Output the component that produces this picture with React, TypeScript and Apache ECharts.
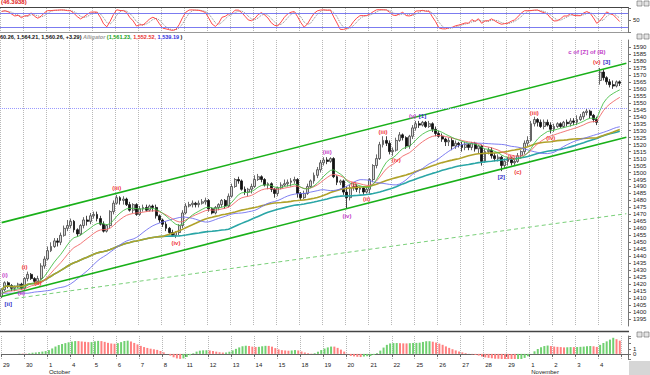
import React, { useEffect, useRef } from "react";
import * as echarts from "echarts";

// ---------- data ----------
const dayLabels = ["29", "30", "1", "4", "5", "6", "7", "8", "11", "12", "13", "14", "15", "18", "19", "20", "21", "22", "25", "26", "27", "28", "29", "1", "2", "3", "4"];
const monthNames = ["October", "November"];
const monthStartDays = [2, 23];
const BARS_PER_DAY = 7;
const EXTRA_SLOTS = 2;

// hourly bars: [open, close, low, high]
const ohlc: number[][] = [
  [1411, 1416, 1410, 1417], [1416, 1421, 1415, 1422], [1421, 1419, 1417, 1422], [1419, 1417, 1415, 1420], [1417, 1418, 1415, 1419], [1418, 1420, 1417, 1421], [1420, 1417, 1416, 1421],
  [1417, 1424, 1416, 1425], [1424, 1427, 1422, 1429], [1427, 1424, 1423, 1428], [1424, 1422, 1421, 1425], [1422, 1424, 1421, 1426], [1424, 1433, 1423, 1435], [1433, 1438, 1431, 1440],
  [1438, 1444, 1437, 1447], [1444, 1447, 1443, 1450], [1447, 1451, 1446, 1453], [1451, 1450, 1447, 1453], [1450, 1455, 1448, 1457], [1455, 1460, 1454, 1462], [1460, 1462, 1458, 1466],
  [1462, 1465, 1460, 1467], [1465, 1459, 1457, 1466], [1459, 1456, 1454, 1460], [1456, 1462, 1455, 1463], [1462, 1466, 1460, 1468], [1466, 1465, 1462, 1469], [1465, 1469, 1463, 1471],
  [1469, 1470, 1467, 1472], [1470, 1467, 1465, 1472], [1467, 1463, 1462, 1469], [1463, 1458, 1457, 1465], [1458, 1462, 1457, 1463], [1462, 1472, 1460, 1473], [1472, 1478, 1470, 1480],
  [1478, 1482, 1477, 1484], [1482, 1480, 1477, 1483], [1480, 1481, 1477, 1483], [1481, 1477, 1476, 1482], [1477, 1473, 1472, 1479], [1473, 1477, 1471, 1478], [1477, 1470, 1469, 1478],
  [1470, 1474, 1469, 1476], [1474, 1475, 1472, 1477], [1475, 1473, 1472, 1477], [1473, 1476, 1472, 1477], [1476, 1475, 1472, 1477], [1475, 1469, 1467, 1477], [1469, 1466, 1464, 1470],
  [1466, 1463, 1461, 1467], [1463, 1460, 1458, 1465], [1460, 1457, 1456, 1461], [1457, 1455, 1454, 1459], [1455, 1457, 1453, 1458], [1457, 1462, 1455, 1463], [1462, 1471, 1460, 1473],
  [1471, 1476, 1470, 1478], [1476, 1477, 1475, 1479], [1477, 1478, 1475, 1480], [1478, 1477, 1475, 1479], [1477, 1478, 1475, 1480], [1478, 1479, 1477, 1481], [1479, 1480, 1477, 1482],
  [1480, 1474, 1472, 1481], [1474, 1471, 1470, 1475], [1471, 1475, 1470, 1476], [1475, 1477, 1473, 1478], [1477, 1480, 1475, 1481], [1480, 1476, 1474, 1481], [1476, 1483, 1475, 1485],
  [1483, 1490, 1482, 1492], [1490, 1495, 1489, 1496], [1495, 1494, 1492, 1497], [1494, 1488, 1487, 1495], [1488, 1486, 1484, 1490], [1486, 1488, 1483, 1489], [1488, 1490, 1485, 1492],
  [1490, 1495, 1489, 1498], [1495, 1497, 1494, 1499], [1497, 1495, 1493, 1498], [1495, 1491, 1490, 1496], [1491, 1492, 1488, 1493], [1492, 1488, 1486, 1493], [1488, 1485, 1482, 1489],
  [1485, 1489, 1483, 1490], [1489, 1491, 1488, 1493], [1491, 1492, 1490, 1495], [1492, 1493, 1490, 1495], [1493, 1494, 1490, 1496], [1494, 1495, 1492, 1497], [1495, 1485, 1482, 1496],
  [1485, 1482, 1480, 1486], [1482, 1485, 1481, 1487], [1485, 1490, 1484, 1492], [1490, 1494, 1489, 1495], [1494, 1498, 1492, 1500], [1498, 1502, 1496, 1504], [1502, 1507, 1500, 1509],
  [1507, 1509, 1505, 1511], [1509, 1508, 1506, 1511], [1508, 1510, 1507, 1511], [1510, 1497, 1496, 1511], [1497, 1493, 1491, 1498], [1493, 1494, 1491, 1495], [1494, 1486, 1484, 1495],
  [1486, 1482, 1474, 1490], [1482, 1489, 1480, 1491], [1489, 1490, 1487, 1492], [1490, 1488, 1486, 1492], [1488, 1489, 1485, 1490], [1489, 1486, 1484, 1490], [1486, 1488, 1485, 1490],
  [1488, 1495, 1485, 1496], [1495, 1505, 1493, 1506], [1505, 1510, 1503, 1513], [1510, 1520, 1509, 1522], [1520, 1523, 1518, 1526], [1523, 1521, 1519, 1526], [1521, 1515, 1513, 1523],
  [1515, 1516, 1512, 1518], [1516, 1523, 1515, 1525], [1523, 1527, 1522, 1529], [1527, 1525, 1523, 1528], [1525, 1519, 1517, 1526], [1519, 1526, 1517, 1527], [1526, 1532, 1524, 1534],
  [1532, 1535, 1530, 1537], [1535, 1534, 1532, 1537], [1534, 1536, 1533, 1537], [1536, 1533, 1532, 1537], [1533, 1535, 1532, 1537], [1535, 1531, 1529, 1536], [1531, 1528, 1526, 1533],
  [1528, 1526, 1525, 1530], [1526, 1524, 1522, 1528], [1524, 1522, 1519, 1525], [1522, 1523, 1519, 1525], [1523, 1519, 1516, 1525], [1519, 1521, 1517, 1523], [1521, 1520, 1518, 1522],
  [1520, 1518, 1515, 1522], [1518, 1520, 1516, 1522], [1520, 1518, 1516, 1521], [1518, 1521, 1516, 1522], [1521, 1517, 1515, 1522], [1517, 1519, 1514, 1520], [1519, 1508, 1505, 1520],
  [1508, 1515, 1507, 1517], [1515, 1516, 1513, 1518], [1516, 1512, 1510, 1518], [1512, 1510, 1508, 1514], [1510, 1511, 1508, 1513], [1511, 1505, 1501, 1512], [1505, 1508, 1503, 1510],
  [1508, 1509, 1505, 1511], [1509, 1507, 1505, 1511], [1507, 1508, 1505, 1510], [1508, 1512, 1507, 1514], [1512, 1515, 1510, 1516], [1515, 1521, 1513, 1523], [1521, 1523, 1519, 1526],
  [1523, 1535, 1522, 1537], [1535, 1538, 1533, 1540], [1538, 1536, 1533, 1539], [1536, 1533, 1532, 1538], [1533, 1536, 1531, 1538], [1536, 1534, 1533, 1538], [1534, 1531, 1528, 1536],
  [1531, 1533, 1529, 1535], [1533, 1535, 1532, 1536], [1535, 1533, 1532, 1536], [1533, 1536, 1532, 1537], [1536, 1535, 1533, 1538], [1535, 1537, 1533, 1539], [1537, 1536, 1534, 1539],
  [1536, 1538, 1534, 1541], [1538, 1540, 1537, 1542], [1540, 1543, 1538, 1544], [1543, 1544, 1541, 1546], [1544, 1541, 1539, 1545], [1541, 1538, 1536, 1542], [1538, 1536, 1534, 1540],
  [1566, 1572, 1563, 1575], [1572, 1568, 1566, 1574], [1568, 1565, 1563, 1569], [1565, 1563, 1561, 1567], [1563, 1562, 1560, 1566], [1562, 1565, 1561, 1566], [1565, 1564, 1562, 1566],
];

// Elliott wave labels: [text, bar index, price, kind]
const waveLabels: [string, number, number, string][] = [
  ["[ii]", 2, 1406, "blue"], ["(i)", 1, 1426.6, "purple"], ["(ii)", 6, 1413.7, "purple"],
  ["(i)", 7, 1432.3, "red"], ["(ii)", 11, 1420.8, "red"], ["(iii)", 35, 1488.9, "red"], ["(iv)", 53, 1449.5, "red"],
  ["(iii)", 99, 1514.7, "purple"], ["(iv)", 105, 1468.9, "purple"], ["(i)", 107, 1491.8, "red"], ["(ii)", 111, 1481, "red"],
  ["(iii)", 116, 1529.1, "red"], ["(iv)", 120, 1509, "red"], ["(v)", 125, 1540.6, "purple"], ["[1]", 128, 1540.6, "blue"],
  ["[2]", 152, 1496.8, "blue"], ["(b)", 155, 1511.2, "red"], ["(c)", 157, 1500.4, "red"],
  ["(iii)", 162, 1542.7, "red"], ["(iv)", 167, 1524.8, "red"],
  ["c of [Z] of (B)", 178, 1586.4, "purple"], ["(v)", 181, 1579.2, "red"], ["[3]", 184, 1579.2, "blue"],
];

const resistanceLevel = 1546;
const channelUpper = [[0, 1464.1], [190, 1578.3]];
const channelLower = [[0, 1411.1], [190, 1525.3]];
const channelDashed = [[4, 1409.7], [190, 1470.5]];
const oscLevels = [20, 80];

const headerPrice = "60.26, 1,564.21, 1,560.26, +3.29)";
const headerAlligator = ["(1,561.23,", "1,552.52,", "1,539.19"];
const oscReadout = "(46.3938)";

// ---------- indicators (computed from the bars) ----------
const sma = (src: number[], n: number) =>
  src.map((_, i) => {
    const s = Math.max(0, i - n + 1);
    let t = 0;
    for (let j = s; j <= i; j++) t += src[j];
    return t / (i - s + 1);
  });
const smma = (src: number[], n: number) => {
  const out: number[] = [];
  let prev = src[0];
  src.forEach((v, i) => {
    prev = i === 0 ? v : (prev * (n - 1) + v) / n;
    out.push(prev);
  });
  return out;
};
const shift = (a: number[], k: number) => a.map((_, i) => a[Math.max(0, i - k)]);
const r2 = (a: number[]) => a.map((v) => Math.round(v * 100) / 100);

const COLORS = { red: "#f03838", purple: "#c23cc8", blue: "#3030c8" } as Record<string, string>;

function buildOption() {
  const total = dayLabels.length * BARS_PER_DAY + EXTRA_SLOTS;
  const cats = Array.from({ length: total }, (_, i) => String(i));
  const closes = ohlc.map((r) => r[1]);
  const lows = ohlc.map((r) => r[2]);
  const highs = ohlc.map((r) => r[3]);
  const med = ohlc.map((r) => (r[2] + r[3]) / 2);

  const lips = smma(med, 5);
  const teeth = smma(med, 8);
  const jaw = shift(smma(med, 13), 8);
  const ma50 = sma(closes, 50);
  const ma70 = sma(closes, 70);

  const raw = closes.map((c, i) => {
    const s = Math.max(0, i - 5);
    const hh = Math.max(...highs.slice(s, i + 1));
    const ll = Math.min(...lows.slice(s, i + 1));
    return hh === ll ? 50 : ((c - ll) / (hh - ll)) * 100;
  });
  const stochK = sma(raw, 3);
  const stochD = sma(stochK, 3);

  const s5 = sma(med, 5);
  const s34 = sma(med, 34);
  const ao = s5.map((v, i) => v - s34[i]);
  const aoData = ao.map((v, i) => ({
    value: Math.round(v * 100) / 100,
    itemStyle: { color: i > 0 && v < ao[i - 1] ? "#ff8080" : "#70d070" },
  }));

  const dayInterval = (i: number) => i % BARS_PER_DAY === 0;
  const split = { show: true, interval: dayInterval, lineStyle: { color: "#b8b8b8", type: "dotted", width: 1 } };
  const font = "Liberation Sans";

  const baseX = (gi: number) => ({
    gridIndex: gi,
    type: "category",
    data: cats,
    boundaryGap: true,
    axisLine: { show: false },
    axisTick: { show: false },
    axisLabel: { show: false },
    splitLine: split,
  });

  const labelStyle = { fontSize: 6, color: "#222", margin: 5, fontFamily: font };
  const rightY = (gi: number, extra: any) => ({
    gridIndex: gi,
    type: "value",
    position: "right",
    axisLine: { show: true, lineStyle: { color: "#777" } },
    axisTick: { show: true, length: 3, lineStyle: { color: "#777" } },
    splitLine: { show: false },
    ...extra,
  });

  const line = (data: number[], color: string, width: number, name: string) => ({
    name,
    type: "line",
    xAxisIndex: 1,
    yAxisIndex: 1,
    data: r2(data),
    showSymbol: false,
    symbol: "none",
    lineStyle: { color, width },
    silent: true,
    z: 3,
  });

  const hs = 5.5;
  return {
    animation: false,
    backgroundColor: "#ffffff",
    textStyle: { fontFamily: font },
    title: [
      { text: oscReadout, left: 1, top: -1, padding: 0, textStyle: { color: "#e02020", fontSize: 6, fontWeight: "bold", fontFamily: font } },
      {
        text: `{k|${headerPrice}} {a|Alligator} {g|${headerAlligator[0]}} {r|${headerAlligator[1]}} {b|${headerAlligator[2]}} {k|)}`,
        left: 0,
        top: 34,
        padding: 0,
        textStyle: {
          fontSize: hs,
          fontFamily: font,
          rich: {
            k: { color: "#111", fontSize: hs, fontWeight: "bold", fontFamily: font },
            a: { color: "#999", fontSize: hs, fontStyle: "italic", fontFamily: font },
            g: { color: "#20a020", fontSize: hs, fontWeight: "bold", fontFamily: font },
            r: { color: "#e83030", fontSize: hs, fontWeight: "bold", fontFamily: font },
            b: { color: "#3030e0", fontSize: hs, fontWeight: "bold", fontFamily: font },
          },
        },
      },
    ],
    grid: [
      { left: 0, right: 22, top: 8, height: 24 },
      { left: 0, right: 22, top: 40, height: 286 },
      { left: 0, right: 22, top: 336, height: 24 },
    ],
    xAxis: [
      baseX(0),
      baseX(1),
      {
        ...baseX(2),
        axisLine: { show: true, lineStyle: { color: "#666" } },
        axisTick: { show: true, interval: dayInterval, length: 3, lineStyle: { color: "#666" } },
        axisLabel: {
          show: true,
          interval: dayInterval,
          align: "left",
          margin: 2,
          formatter: (_v: string, i: number) => {
            if (i % BARS_PER_DAY) return "";
            const d = i / BARS_PER_DAY;
            const lab = dayLabels[d];
            if (!lab) return "";
            const m = monthStartDays.indexOf(d);
            return m >= 0 ? `{d|${lab}}\n{m|${monthNames[m]}}` : `{d|${lab}}`;
          },
          rich: {
            d: { fontSize: 6, color: "#222", lineHeight: 7, fontFamily: font },
            m: { fontSize: 6, color: "#222", lineHeight: 8, fontFamily: font },
          },
        },
      },
    ],
    yAxis: [
      rightY(0, { min: 0, max: 100, interval: 50, axisLabel: { ...labelStyle, formatter: (v: number) => (v === 50 ? "50" : "") } }),
      rightY(1, { min: 1390, max: 1595, interval: 5, axisLabel: { ...labelStyle, showMinLabel: false, showMaxLabel: false, formatter: (v: number) => String(v) } }),
      rightY(2, { min: -10, max: 35, interval: 10, axisLabel: { ...labelStyle, formatter: (v: number) => (v === 0 || v === 10 ? String(v / 10) : "") } }),
    ],
    graphic: [
      { type: "line", shape: { x1: 0, y1: 7.5, x2: 629, y2: 7.5 }, style: { stroke: "#444", lineWidth: 1 }, silent: true },
      { type: "line", shape: { x1: 0, y1: 32.5, x2: 629, y2: 32.5 }, style: { stroke: "#999", lineWidth: 1 }, silent: true },
      { type: "line", shape: { x1: 0, y1: 331.5, x2: 629, y2: 331.5 }, style: { stroke: "#444", lineWidth: 1.5 }, silent: true },
      { type: "rect", shape: { x: 629, y: 361, width: 21, height: 14 }, style: { fill: "#d6d6d6" }, silent: true },
      ...[1, 34, 332].flatMap((y) => [
        { type: "rect", shape: { x: 637, y, width: 5, height: 5 }, style: { fill: "#e4e4e4", stroke: "#666", lineWidth: 0.6 }, silent: true },
        { type: "rect", shape: { x: 644, y, width: 5, height: 5 }, style: { fill: "#e4e4e4", stroke: "#666", lineWidth: 0.6 }, silent: true },
      ]),
    ],
    series: [
      {
        name: "price",
        type: "candlestick",
        xAxisIndex: 1,
        yAxisIndex: 1,
        data: ohlc,
        barWidth: 2.4,
        itemStyle: { color: "#d8d8d8", color0: "#111", borderColor: "#444", borderColor0: "#111", borderWidth: 0.8 },
        z: 2,
        markLine: {
          silent: true,
          symbol: ["none", "none"],
          label: { show: false },
          data: [
            [{ coord: channelUpper[0], lineStyle: { color: "#19b019", width: 1.6, type: "solid" } }, { coord: channelUpper[1] }],
            [{ coord: channelLower[0], lineStyle: { color: "#19b019", width: 1.6, type: "solid" } }, { coord: channelLower[1] }],
            [{ coord: channelDashed[0], lineStyle: { color: "#7ad07a", width: 1, type: [4, 3] } }, { coord: channelDashed[1] }],
            { yAxis: resistanceLevel, lineStyle: { color: "#9a9aff", width: 1, type: "dotted" } },
          ],
        },
        markPoint: {
          silent: true,
          data: waveLabels.map(([t, idx, v, kind]) => ({
            coord: [idx, v],
            symbol: "circle",
            symbolSize: 1,
            itemStyle: { color: "rgba(0,0,0,0)" },
            label: { show: true, position: "inside", formatter: t, color: COLORS[kind], fontSize: 6, fontWeight: "bold", fontFamily: font },
          })),
        },
      },
      line(ma70, "#2aa6a6", 1.6, "ma70"),
      line(ma50, "#b0a22a", 1.6, "ma50"),
      line(jaw, "#7070f0", 0.9, "jaw"),
      line(teeth, "#f06868", 0.9, "teeth"),
      line(lips, "#48c048", 0.9, "lips"),
      {
        name: "stochD",
        type: "line",
        xAxisIndex: 0,
        yAxisIndex: 0,
        data: r2(stochD),
        showSymbol: false,
        symbol: "none",
        lineStyle: { color: "#888", width: 1, type: "dotted" },
        silent: true,
      },
      {
        name: "stochK",
        type: "line",
        xAxisIndex: 0,
        yAxisIndex: 0,
        data: r2(stochK),
        showSymbol: false,
        symbol: "none",
        lineStyle: { color: "#ff4a4a", width: 1 },
        silent: true,
        markLine: {
          silent: true,
          symbol: ["none", "none"],
          label: { show: false },
          lineStyle: { color: "#7b7bf0", width: 1, type: "solid" },
          data: oscLevels.map((v) => ({ yAxis: v })),
        },
      },
      {
        name: "ao",
        type: "bar",
        xAxisIndex: 2,
        yAxisIndex: 2,
        data: aoData,
        barWidth: 2,
        silent: true,
      },
    ],
  };
}

export default function App() {
  const ref = useRef<HTMLDivElement>(null);
  useEffect(() => {
    if (!ref.current) return;
    const chart = echarts.init(ref.current, undefined, { renderer: "svg" });
    chart.setOption(buildOption() as any);
    return () => chart.dispose();
  }, []);
  return <div ref={ref} style={{ position: "absolute", left: 0, top: 0, width: 650, height: 375 }} />;
}
